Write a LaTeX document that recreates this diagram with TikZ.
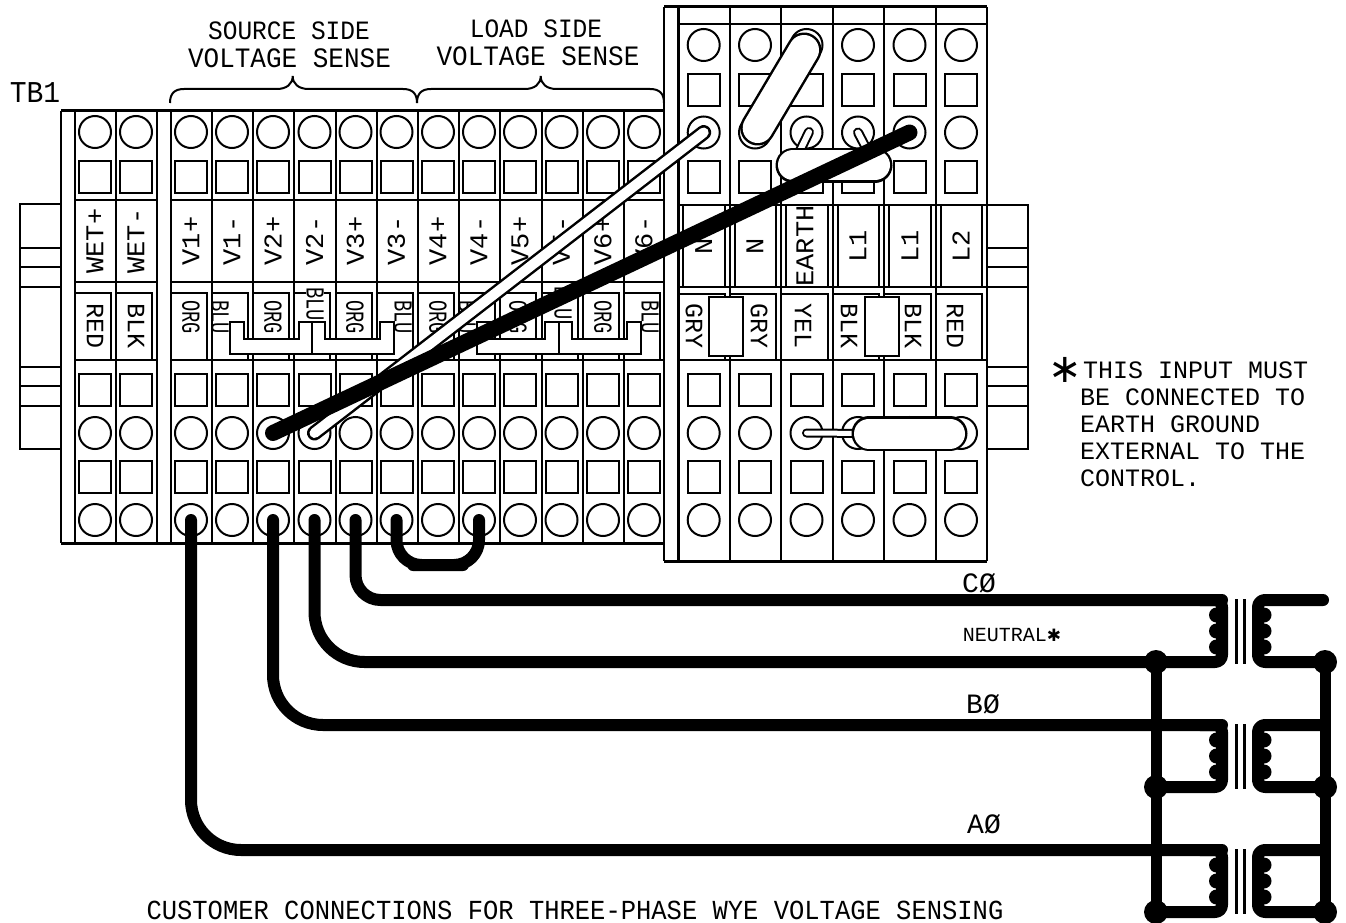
\documentclass[tikz,border=0pt]{standalone}
\usepackage{fontspec}
\setmonofont{Liberation Mono}
\newfontfamily\starfont{DejaVu Sans}

\begin{document}
\begin{tikzpicture}[
  x=1pt,y=-1pt,
  font=\ttfamily,
  every node/.style={align=center},
  plate/.style={line width=2pt},
  heavy/.style={line width=3pt},
  terminal/.style={draw,line width=2pt,circle,minimum size=32pt,inner sep=0pt},
  socket/.style={draw,line width=2pt,rectangle,minimum size=32pt,inner sep=0pt},
  termlabel/.style={rotate=90,yscale=.95,inner sep=0pt,font=\ttfamily\fontsize{27}{27}\selectfont},
  wirecode/.style={rotate=-90,xscale=.72,inner sep=0pt,font=\ttfamily\fontsize{26}{26}\selectfont},
  colorcode/.style={rotate=-90,inner sep=0pt,font=\ttfamily\fontsize{25}{25}\selectfont},
  heading/.style={inner sep=0pt,yscale=1.08,font=\ttfamily\fontsize{24.5}{24.5}\selectfont},
  phase/.style={inner sep=0pt,font=\ttfamily\fontsize{28}{28}\selectfont},
  bridge/.style={draw,line width=2pt,fill=white},
  wire/.style={line width=12pt,line cap=round,line join=round},
  topwire/.style={line width=16pt,line cap=round},
  whitewire/.style={double=white,double distance=10pt,line width=2.5pt,line cap=round},
  thinlink/.style={double=white,double distance=6pt,line width=2pt,line cap=round},
  pill/.style={double=white,double distance=30pt,line width=2.5pt,line cap=round},
  junction/.style={fill,circle,minimum size=24pt,inner sep=0pt},
  core/.style={line width=3pt}]

  \useasboundingbox (0,0) rectangle (1346,923);
  \clip (0,0) rectangle (1346,923);

  \draw[plate] (61,204) -| (20,449) -- (61,449);
  \foreach \y in {248,267,287,367,386,406}
    \draw[plate] (20,\y) -- (61,\y);
  \draw[plate] (987,205) -| (1028,449) -- (987,449);
  \foreach \y in {248,267,287,367,386,406}
    \draw[plate] (987,\y) -- (1028,\y);

  \draw[plate] (61,111) -- (61,543);
  \draw[heavy] (61,111) -- (664,111);
  \draw[heavy] (61,543) -- (664,543);
  \foreach \x in {74.5,116,157,170.5,212,253,294,335.5,376.5,417.5,459,500,541.5,583,624,664}
    \draw[plate] (\x,111) -- (\x,543);
  \foreach \y in {200,282,359.5} {
    \draw[plate] (74.5,\y) -- (157,\y);
    \draw[plate] (170.5,\y) -- (664,\y);
  }
  \foreach \x in {74.5,116,170.5,212,253,294,335.5,376.5,417.5,459,500,541.5,583,624}
    \draw[plate] (\x,359.5) |- ({\x+36},293) -- ({\x+36},359.5);

  \draw[heavy] (664,7) -- (987,7);
  \draw[heavy] (664,561) -- (987,561);
  \draw[plate] (664,7) -- (664,561);
  \draw[heavy] (678,7) -- (678,561);
  \foreach \x in {729.5,781,832.5,884,935.5,987}
    \draw[plate] (\x,7) -- (\x,561);
  \foreach \y in {24,205,287,360}
    \draw[plate] (678,\y) -- (987,\y);
  \foreach \x/\xr in {678/729.5,729.5/781,781/832.5,832.5/884,884/935.5,935.5/987} {
    \draw[plate] ({\x+5},205) rectangle ({\xr-5},287);
    \draw[plate] (\x,360) |- ({\xr-5},293.5) -- ({\xr-5},360);
  }

  \foreach \n/\cx in {w1/95,w2/136,s1/191,s2/232,s3/273,s4/314.5,s5/355.5,s6/396.5,s7/438,s8/479,s9/520,s10/561.5,s11/603,s12/644} {
    \node[terminal] (\n a) at (\cx,132) {};
    \node[socket] (\n b) at (\cx,177) {};
    \node[socket] (\n c) at (\cx,389.5) {};
    \node[terminal] (\n d) at (\cx,433) {};
    \node[socket] (\n e) at (\cx,476.5) {};
    \node[terminal] (\n f) at (\cx,520) {};
  }
  \foreach \n/\cx in {r1/703.7,r2/755,r3/806.5,r4/858,r5/909.5,r6/961} {
    \node[terminal] (\n a) at (\cx,45) {};
    \node[socket] (\n b) at (\cx,90) {};
    \node[terminal] (\n c) at (\cx,132.5) {};
    \node[socket] (\n d) at (\cx,176.7) {};
    \node[socket] (\n e) at (\cx,389.7) {};
    \node[terminal] (\n f) at (\cx,433) {};
    \node[socket] (\n g) at (\cx,476.5) {};
    \node[terminal] (\n h) at (\cx,520) {};
  }

  \foreach \n/\cx/\t in {w1/95/WET+,w2/136/WET-,s1/191/V1+,s2/232/V1-,s3/273/V2+,s4/314.5/V2-,s5/355.5/V3+,s6/396.5/V3-,s7/438/V4+,s8/479/V4-,s9/520/V5+,s10/561.5/V5-,s11/603/V6+,s12/644/V6-}
    \node[termlabel] (\n lbl) at (\cx,241) {\t};
  \foreach \n/\cx/\t in {r1/703.7/N,r2/755/N,r3/805/EARTH,r4/858/L1,r5/910/L1,r6/961/L2}
    \node[termlabel] (\n lbl) at (\cx,246) {\t};

  \foreach \n/\cx/\cy/\t in {red/95/326/RED,blk/136/326/BLK,g1/694/326/GRY,g2/759/326/GRY,yel/803/326/YEL,k1/849/326/BLK,k2/913/326/BLK,rd/955/326/RED}
    \node[colorcode] (\n code) at (\cx,\cy) {\t};
  \foreach \n/\cx/\t in {o1/191/ORG,b1/220/BLU,o2/273/ORG,o3/355/ORG,b3/403/BLU,o4/438/ORG,b4/467/BLU,o5/518/ORG,o6/603/ORG,b6/650/BLU}
    \node[wirecode] (\n code) at (\cx,317) {\t};
  \node[wirecode,fill=white] (b2code) at (315,304) {BLU};
  \node[wirecode,fill=white] (b5code) at (563,303) {BLU};

  \node[bridge,minimum width=34pt,minimum height=59pt,inner sep=0pt] (gryLink) at (726.3,326.5) {};
  \node[bridge,minimum width=34pt,minimum height=59pt,inner sep=0pt] (blkLink) at (882.2,326.5) {};

  \foreach \xa/\n in {230/0,476.7/1} {
    \draw[bridge] (\xa,321.7) -- ({\xa+13.5},321.7) -- ({\xa+13.5},339.3) -- ({\xa+68.5},339.3) -- ({\xa+68.5},321.7)
      -- ({\xa+82},321.7) -- ({\xa+82},354) -- (\xa,354) -- cycle;
    \draw[bridge] ({\xa+82},321.7) -- ({\xa+95},321.7) -- ({\xa+95},339.3) -- ({\xa+150},339.3) -- ({\xa+150},321.7)
      -- ({\xa+164},321.7) -- ({\xa+164},354) -- ({\xa+82},354) -- cycle;
  }

  \foreach \xa/\tipx/\xb in {170/292.7/417,417/540.7/664}
    \draw[plate] (\xa,103) .. controls (\xa,94) and ({\xa+4},89) .. ({\xa+14},89) -- ({\tipx-16},89)
      .. controls ({\tipx-6},89) and (\tipx,84) .. (\tipx,76)
      .. controls (\tipx,84) and ({\tipx+6},89) .. ({\tipx+16},89) -- ({\xb-14},89)
      .. controls ({\xb-4},89) and (\xb,94) .. (\xb,103);

  \node[heading] (tb) at (35,93) {\fontsize{28}{28}\selectfont TB1};
  \node[heading] (srcA) at (289,31) {SOURCE SIDE};
  \node[heading,font=\ttfamily\fontsize{26}{26}\selectfont] (srcB) at (289.5,58) {VOLTAGE SENSE};
  \node[heading] (loadA) at (536,29) {LOAD SIDE};
  \node[heading,font=\ttfamily\fontsize{26}{26}\selectfont] (loadB) at (538,56) {VOLTAGE SENSE};
  \node[phase,anchor=north west,align=left,font=\ttfamily\fontsize{25}{27}\selectfont] (note) at (1054,357) {%
    \makebox[29pt][l]{\hspace*{-6pt}\raisebox{-4pt}{\starfont\fontsize{40}{40}\selectfont ∗}}THIS INPUT MUST\\
    \hspace*{26pt}BE CONNECTED TO\\
    \hspace*{26pt}EARTH GROUND\\
    \hspace*{26pt}EXTERNAL TO THE\\
    \hspace*{26pt}CONTROL.};
  \node[phase] (phC) at (979,583) {CØ};
  \node[phase] (neutral) at (1012,635) {\fontsize{20}{20}\selectfont NEUTRAL{\starfont\fontsize{17}{17}\selectfont ✱}};
  \node[phase] (phB) at (983,704) {BØ};
  \node[phase] (phA) at (984,824) {AØ};
  \node[heading] (title) at (575,910) {\fontsize{25.5}{25.5}\selectfont CUSTOMER CONNECTIONS FOR THREE-PHASE WYE VOLTAGE SENSING};

  \foreach \n/\y/\yb in {c/600/662,b/725/787,a/850/912} {
    \coordinate (\n pin) at (1222,\y);
    \coordinate (\n pout) at (1222,\yb);
    \coordinate (\n sin) at (1258,\y);
    \coordinate (\n sout) at (1258,\yb);
    \coordinate (\n send) at (1323,\y);
    \node[junction] (\n left) at (1156,\yb) {};
    \node[junction] (\n right) at (1325,\yb) {};
    \draw[core] (1236,{\y-1}) -- (1236,{\yb+2});
    \draw[core] (1244,{\y-1}) -- (1244,{\yb+2});
    \draw[wire,rounded corners=7pt] (1200,\y) -- (\n pin) -- (\n pout) -- (\n left.center);
    \draw[wire,rounded corners=7pt] (\n send) -- (\n sin) -- (\n sout) -- (\n right.center);
    \foreach \k in {15,31,47} {
      \fill (1216.5,{\y+\k}) circle (7.5pt);
      \fill (1264,{\y+\k}) circle (7.5pt);
    }
  }
  \draw[line width=11pt] (cleft.center) -- (aleft.center);
  \draw[line width=11pt] (cright.center) -- (aright.center);

  \draw[wire,rounded corners=25pt] (s5f.center) |- (cpin);
  \draw[wire,rounded corners=50pt] (s4f.center) |- (cleft.center);
  \draw[wire,rounded corners=50pt] (s3f.center) |- (bpin);
  \draw[wire,rounded corners=50pt] (s1f.center) |- (apin);
  \draw[wire,rounded corners=25pt] (s6f.center) |- (438,565) -| (s8f.center);

  \coordinate (pillAa) at (804,50);
  \coordinate (pillAb) at (757.7,128);
  \coordinate (pillBa) at (793,165);
  \coordinate (pillBb) at (875,165);
  \coordinate (pillCa) at (869,433.5);
  \coordinate (pillCb) at (950,433.5);
  \draw[thinlink] (809,132) -- (pillBa);
  \draw[thinlink] (r4c.center) -- (pillBb);
  \draw[thinlink,double distance=5pt] (r3f.center) -- (pillCa);
  \draw[pill] (pillAa) -- (pillAb);
  \draw[pill] (pillBa) -- (pillBb);
  \draw[pill] (pillCa) -- (pillCb);

  \draw[whitewire] (s4d.center) -- (r1c.center);
  \draw[topwire] (s3d.center) -- (r5c.center);
\end{tikzpicture}
\end{document}
